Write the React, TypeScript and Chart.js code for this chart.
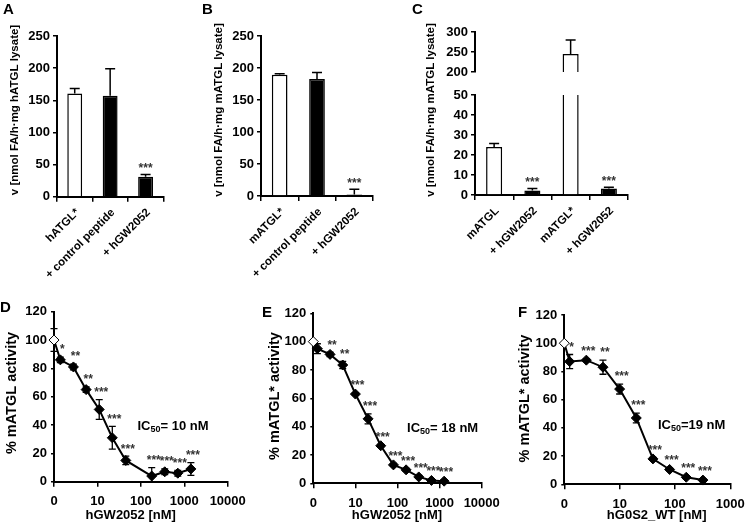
import React, { useEffect, useRef } from 'react';
import { Chart, registerables } from 'chart.js';
Chart.register(...registerables);

const FONT = '"Liberation Sans", Arial, Helvetica, sans-serif';
const W = 745;
const H = 529;
Chart.defaults.font.family = FONT;
Chart.defaults.color = '#000';

// ---------- Panel A ----------
const aLabels = ['hATGL*', '+ control peptide', '+ hGW2052'];
const aValues = [160.5, 157, 31];
const aErrors = [8, 42, 3.5];
const aStars = ['', '', '***'];
const aFills = ['#ffffff', '#000000', '#000000'];
const aTitle = 'v [nmol FA/h·mg hATGL lysate]';

// ---------- Panel B ----------
const bLabels = ['mATGL*', '+ control peptide', '+ hGW2052'];
const bValues = [189.5, 183, 2.5];
const bErrors = [1.5, 10, 8];
const bStars = ['', '', '***'];
const bFills = ['#ffffff', '#000000', '#000000'];
const bTitle = 'v [nmol FA/h·mg mATGL lysate]';

// ---------- Panel C (broken axis) ----------
const cLabels = ['mATGL', '+ hGW2052', 'mATGL*', '+ hGW2052'];
const cValues = [24, 2.3, 245, 3.2];
const cErrors = [1.8, 0.9, 35, 0.7];
const cStars = ['', '***', '', '***'];
const cFills = ['#ffffff', '#000000', '#ffffff', '#000000'];
const cTitle = 'v [nmol FA/h·mg mATGL lysate]';

// ---------- Panel D ----------
const dConc = [0, 1.4, 2.8, 5.5, 11, 22, 45, 178, 355, 710, 1420];
const dValues = [100, 86, 81, 65, 51, 31, 15, 4, 7, 6, 9];
const dErrors = [8, 2, 2, 2, 7, 8, 3, 6, 2, 2, 4.5];
const dStars = ['', '*', '**', '**', '***', '***', '***', '***', '***', '***', '***'];
const dIC50 = 10;
const dYTitle = '% mATGL activity';
const dXTitle = 'hGW2052 [nM]';
const dTickValues = [1, 10, 100, 1000, 10000];
const dTickLabels = ['0', '10', '100', '1000', '10000'];

// ---------- Panel E ----------
const eConc = [0, 1.25, 2.5, 5, 10, 20, 40, 80, 160, 320, 640, 1280];
const eValues = [100, 95, 91, 83.5, 63, 45.5, 26.5, 13, 9.5, 4.5, 2, 1.5];
const eErrors = [0, 3.5, 1.5, 2.5, 1, 3.5, 1, 1, 1, 1, 1, 1];
const eStars = ['', '', '**', '**', '***', '***', '***', '***', '***', '***', '***', '***'];
const eIC50 = 18;
const eYTitle = '% mATGL* activity';
const eXTitle = 'hGW2052 [nM]';
const eTickValues = [1, 10, 100, 1000, 10000];
const eTickLabels = ['0', '10', '100', '1000', '10000'];

// ---------- Panel F ----------
const fConc = [0, 1.25, 2.5, 5, 10, 20, 40, 80, 160, 320];
const fValues = [100, 87, 88, 83, 67.5, 47, 18, 10.5, 5, 3];
const fErrors = [0, 5, 1, 5, 3.5, 3.5, 1, 1, 1, 1];
const fStars = ['', '*', '***', '**', '***', '***', '***', '***', '***', '***'];
const fIC50 = 19;
const fYTitle = '% mATGL* activity';
const fXTitle = 'hG0S2_WT [nM]';
const fTickValues = [1, 10, 100, 1000];
const fTickLabels = ['0', '10', '100', '1000'];

// position of the "0" label on the log axes
const LOG_ZERO = 1;

const YW = 45;
const XH_BAR = 85;
const XH_LINE = 32;

type Area = { l: number; r: number; t: number; b: number };

function padFor(a: Area, yw: number, xh: number) {
  return { left: a.l - yw, right: W - a.r, top: a.t, bottom: H - a.b - xh };
}

function valueOf(d: any) {
  return typeof d === 'number' ? d : d && typeof d === 'object' ? d.y : NaN;
}

const errorPlugin = {
  id: 'errStars',
  beforeDatasetsDraw(chart: any) {
    const ctx = chart.ctx;
    const ca = chart.chartArea;
    ctx.save();
    ctx.beginPath();
    ctx.rect(ca.left - 12, ca.top - 1, ca.right - ca.left + 24, ca.bottom - ca.top + 2);
    ctx.clip();
    chart.data.datasets.forEach((ds: any, di: number) => {
      if (!ds.errors) return;
      const meta = chart.getDatasetMeta(di);
      const ys = chart.scales[meta.yAxisID];
      ctx.strokeStyle = '#000';
      ctx.lineWidth = ds.errWidth || 1.5;
      ds.errors.forEach((e: number, i: number) => {
        if (!e) return;
        const el = meta.data[i];
        const v = valueOf(ds.data[i]);
        const x = el.x;
        const yT = ys.getPixelForValue(v + e);
        const yM = ys.getPixelForValue(v);
        const yB = ds.errMode === 'both' ? ys.getPixelForValue(v - e) : yM;
        const c = ds.cap || 4;
        ctx.beginPath();
        ctx.moveTo(x, yB);
        ctx.lineTo(x, yT);
        ctx.moveTo(x - c, yT);
        ctx.lineTo(x + c, yT);
        if (ds.errMode === 'both') {
          ctx.moveTo(x - c, yB);
          ctx.lineTo(x + c, yB);
        }
        ctx.stroke();
      });
    });
    ctx.restore();
  },
  afterDatasetsDraw(chart: any) {
    const ctx = chart.ctx;
    chart.data.datasets.forEach((ds: any, di: number) => {
      if (!ds.stars) return;
      const meta = chart.getDatasetMeta(di);
      const ys = chart.scales[meta.yAxisID];
      ctx.save();
      ctx.fillStyle = '#333';
      ctx.font = `bold 12px ${FONT}`;
      ctx.textAlign = 'center';
      ctx.textBaseline = 'middle';
      ds.stars.forEach((s: string, i: number) => {
        if (!s) return;
        const el = meta.data[i];
        const v = valueOf(ds.data[i]);
        const e = (ds.errors && ds.errors[i]) || 0;
        const yT = ys.getPixelForValue(v + e);
        ctx.fillText(s, el.x + (ds.starDx || 0), yT + (ds.starDy || -6));
      });
      ctx.restore();
    });
  },
};

// rotated category labels: right end at the category centre, 45 degrees
const rotatedLabelsPlugin = {
  id: 'rotLabels',
  afterDraw(chart: any) {
    const xs = chart.scales.x;
    if (!xs || !xs.options.display) return;
    const ctx = chart.ctx;
    const labels: string[] = chart.data.labels || [];
    ctx.save();
    ctx.fillStyle = '#000';
    ctx.font = `bold 11.5px ${FONT}`;
    ctx.textAlign = 'right';
    ctx.textBaseline = 'middle';
    labels.forEach((lab, i) => {
      const x = xs.getPixelForValue(i);
      ctx.save();
      ctx.translate(x + 3, chart.chartArea.bottom + 14);
      ctx.rotate(-Math.PI / 4);
      ctx.fillText(lab, 0, 0);
      ctx.restore();
    });
    ctx.restore();
  },
};

type Part = { t: string; size: number; dy?: number };
type TextItem = {
  text?: string;
  parts?: Part[];
  x?: number;
  y?: number;
  dataX?: number;
  dataY?: number;
  size?: number;
  rotate?: number;
  align?: 'left' | 'center' | 'right';
};

function textPlugin(items: TextItem[]) {
  return {
    id: 'pageText',
    afterDraw(chart: any) {
      const ctx = chart.ctx;
      items.forEach((it) => {
        let x = it.x || 0;
        let y = it.y || 0;
        if (it.dataX !== undefined) {
          x = chart.scales.x.getPixelForValue(it.dataX);
          y = chart.scales.y.getPixelForValue(it.dataY);
        }
        const parts: Part[] = it.parts || [{ t: it.text || '', size: it.size || 13 }];
        ctx.save();
        ctx.translate(x, y);
        if (it.rotate) ctx.rotate((it.rotate * Math.PI) / 180);
        ctx.fillStyle = '#000';
        ctx.textBaseline = 'middle';
        ctx.textAlign = 'left';
        let total = 0;
        parts.forEach((p) => {
          ctx.font = `bold ${p.size}px ${FONT}`;
          total += ctx.measureText(p.t).width;
        });
        let cx = it.align === 'left' ? 0 : it.align === 'right' ? -total : -total / 2;
        parts.forEach((p) => {
          ctx.font = `bold ${p.size}px ${FONT}`;
          ctx.fillText(p.t, cx, p.dy || 0);
          cx += ctx.measureText(p.t).width;
        });
        ctx.restore();
      });
    },
  };
}

const axisGrid = { display: true, drawOnChartArea: false, drawTicks: true, color: '#000', lineWidth: 1.5 };
const axisBorder = { display: true, color: '#000', width: 2 };

type BarOpts = {
  labels: string[];
  values: number[];
  errors: number[];
  stars?: string[];
  fills: string[];
  min: number;
  max: number;
  step: number;
  area: Area;
  showX: boolean;
  texts: TextItem[];
};

function barConfig(o: BarOpts): any {
  return {
    type: 'bar',
    data: {
      labels: o.labels,
      datasets: [
        {
          data: o.values,
          backgroundColor: o.fills,
          borderColor: '#000',
          borderWidth: 1.5,
          barPercentage: 0.42,
          categoryPercentage: 1,
          clip: 0,
          errors: o.errors,
          stars: o.stars,
          errMode: 'up',
          cap: 5,
          starDy: -6,
        },
      ],
    },
    options: {
      responsive: false,
      animation: false,
      devicePixelRatio: 1,
      events: [],
      layout: { padding: padFor(o.area, YW, o.showX ? XH_BAR : 0) },
      plugins: { legend: { display: false }, tooltip: { enabled: false }, title: { display: false } },
      scales: {
        x: o.showX
          ? {
              type: 'category',
              offset: true,
              grid: { ...axisGrid, offset: true, tickLength: 5 },
              border: axisBorder,
              ticks: { display: false, autoSkip: false },
              afterFit(s: any) {
                s.height = XH_BAR;
                s.paddingLeft = 0;
                s.paddingRight = 0;
              },
            }
          : { type: 'category', display: false, offset: true },
        y: {
          min: o.min,
          max: o.max,
          grid: { ...axisGrid, tickLength: 4 },
          border: axisBorder,
          ticks: { stepSize: o.step, padding: 3, color: '#000', font: { size: 13, weight: 'bold', family: FONT } },
          afterFit(s: any) {
            s.width = YW;
            s.paddingTop = 0;
            s.paddingBottom = 0;
          },
        },
      },
    },
    plugins: [errorPlugin, rotatedLabelsPlugin, textPlugin(o.texts)],
  };
}

type LineOpts = {
  conc: number[];
  values: number[];
  errors: number[];
  stars: string[];
  tickValues: number[];
  tickLabels: string[];
  area: Area;
  texts: TextItem[];
};

function lineConfig(o: LineOpts): any {
  const tv = o.tickValues;
  return {
    type: 'line',
    data: {
      datasets: [
        {
          data: o.conc.map((c, i) => ({ x: c === 0 ? LOG_ZERO : c, y: o.values[i] })),
          borderColor: '#000',
          borderWidth: 2,
          tension: 0,
          clip: false,
          pointStyle: 'rectRot',
          pointRadius: 5,
          pointBorderWidth: 1,
          pointBorderColor: '#000',
          pointBackgroundColor: (ctx: any) => (ctx.dataIndex === 0 ? '#ffffff' : '#000000'),
          errors: o.errors,
          stars: o.stars,
          errMode: 'both',
          errWidth: 1.3,
          cap: 3.5,
          starDx: 2,
          starDy: -7,
        },
      ],
    },
    options: {
      responsive: false,
      animation: false,
      devicePixelRatio: 1,
      events: [],
      layout: { padding: padFor(o.area, YW, XH_LINE) },
      plugins: { legend: { display: false }, tooltip: { enabled: false }, title: { display: false } },
      scales: {
        x: {
          type: 'logarithmic',
          min: tv[0],
          max: tv[tv.length - 1],
          grid: { ...axisGrid, tickLength: 5 },
          border: axisBorder,
          afterBuildTicks(s: any) {
            s.ticks = tv.map((v) => ({ value: v }));
          },
          ticks: {
            autoSkip: false,
            maxRotation: 0,
            minRotation: 0,
            padding: 7,
            color: '#000',
            font: { size: 13, weight: 'bold', family: FONT },
            callback: (_v: any, i: number) => o.tickLabels[i],
          },
          afterFit(s: any) {
            s.height = XH_LINE;
            s.paddingLeft = 0;
            s.paddingRight = 0;
          },
        },
        y: {
          min: 0,
          max: 120,
          grid: { ...axisGrid, tickLength: 3 },
          border: axisBorder,
          ticks: { stepSize: 20, padding: 4, color: '#000', font: { size: 13, weight: 'bold', family: FONT } },
          afterFit(s: any) {
            s.width = YW;
            s.paddingTop = 0;
            s.paddingBottom = 0;
          },
        },
      },
    },
    plugins: [errorPlugin, textPlugin(o.texts)],
  };
}

const LETTER = 15;
const BAR_TITLE = 11.5;
const LINE_TITLE = 14.5;
const XTITLE = 13;

const configA = () =>
  barConfig({
    labels: aLabels, values: aValues, errors: aErrors, stars: aStars, fills: aFills,
    min: 0, max: 250, step: 50,
    area: { l: 57, r: 163.3, t: 36, b: 196.7 },
    showX: true,
    texts: [
      { text: 'A', x: 3, y: 9.5, size: LETTER, align: 'left' },
      { text: aTitle, x: 14.5, y: 110, size: BAR_TITLE, rotate: -90 },
    ],
  });

const configB = () =>
  barConfig({
    labels: bLabels, values: bValues, errors: bErrors, stars: bStars, fills: bFills,
    min: 0, max: 250, step: 50,
    area: { l: 261, r: 373, t: 36, b: 196 },
    showX: true,
    texts: [
      { text: 'B', x: 202, y: 9.5, size: LETTER, align: 'left' },
      { text: bTitle, x: 219, y: 110, size: BAR_TITLE, rotate: -90 },
    ],
  });

const configCLow = () =>
  barConfig({
    labels: cLabels, values: cValues, errors: cErrors, stars: cStars, fills: cFills,
    min: 0, max: 50, step: 10,
    area: { l: 475, r: 628, t: 95, b: 195 },
    showX: true,
    texts: [
      { text: 'C', x: 412, y: 10, size: LETTER, align: 'left' },
      { text: cTitle, x: 431, y: 110, size: BAR_TITLE, rotate: -90 },
    ],
  });

const configCHigh = () =>
  barConfig({
    labels: cLabels, values: cValues, errors: cErrors, fills: cFills,
    min: 200, max: 300, step: 50,
    area: { l: 475, r: 628, t: 32, b: 72 },
    showX: false,
    texts: [],
  });

const configD = () =>
  lineConfig({
    conc: dConc, values: dValues, errors: dErrors, stars: dStars,
    tickValues: dTickValues, tickLabels: dTickLabels,
    area: { l: 54, r: 227.7, t: 311.7, b: 481.7 },
    texts: [
      { text: 'D', x: 0, y: 308, size: LETTER, align: 'left' },
      { text: dYTitle, x: 12, y: 393, size: LINE_TITLE, rotate: -90 },
      { text: dXTitle, x: 130.7, y: 515, size: XTITLE },
      { parts: [{ t: 'IC', size: 13 }, { t: '50', size: 9, dy: 3 }, { t: `= ${dIC50} nM`, size: 13 }], dataX: 550, dataY: 39 },
    ],
  });

const configE = () =>
  lineConfig({
    conc: eConc, values: eValues, errors: eErrors, stars: eStars,
    tickValues: eTickValues, tickLabels: eTickLabels,
    area: { l: 313.3, r: 481.7, t: 313.3, b: 483.3 },
    texts: [
      { text: 'E', x: 262, y: 313, size: LETTER, align: 'left' },
      { text: eYTitle, x: 275, y: 396, size: LINE_TITLE, rotate: -90 },
      { text: eXTitle, x: 397, y: 515, size: XTITLE },
      { parts: [{ t: 'IC', size: 13 }, { t: '50', size: 9, dy: 3 }, { t: `= ${eIC50} nM`, size: 13 }], dataX: 1180, dataY: 39 },
    ],
  });

const configF = () =>
  lineConfig({
    conc: fConc, values: fValues, errors: fErrors, stars: fStars,
    tickValues: fTickValues, tickLabels: fTickLabels,
    area: { l: 564.3, r: 730.3, t: 315, b: 484.3 },
    texts: [
      { text: 'F', x: 518, y: 313, size: LETTER, align: 'left' },
      { text: fYTitle, x: 525, y: 398.5, size: LINE_TITLE, rotate: -90 },
      { text: fXTitle, x: 656.7, y: 515, size: XTITLE },
      { parts: [{ t: 'IC', size: 13 }, { t: '50', size: 9, dy: 3 }, { t: `=${fIC50} nM`, size: 13 }], dataX: 200, dataY: 41.6 },
    ],
  });

function ChartCanvas({ make }: { make: () => any }) {
  const ref = useRef<HTMLCanvasElement>(null);
  useEffect(() => {
    const chart = new Chart(ref.current as HTMLCanvasElement, make());
    return () => chart.destroy();
  }, [make]);
  return (
    <canvas
      ref={ref}
      width={W}
      height={H}
      style={{ position: 'absolute', left: 0, top: 0, width: W, height: H }}
    />
  );
}

export default function App() {
  return (
    <div style={{ position: 'absolute', left: 0, top: 0, width: W, height: H, background: '#fff', overflow: 'hidden' }}>
      <ChartCanvas make={configA} />
      <ChartCanvas make={configB} />
      <ChartCanvas make={configCHigh} />
      <ChartCanvas make={configCLow} />
      <ChartCanvas make={configD} />
      <ChartCanvas make={configE} />
      <ChartCanvas make={configF} />
    </div>
  );
}
